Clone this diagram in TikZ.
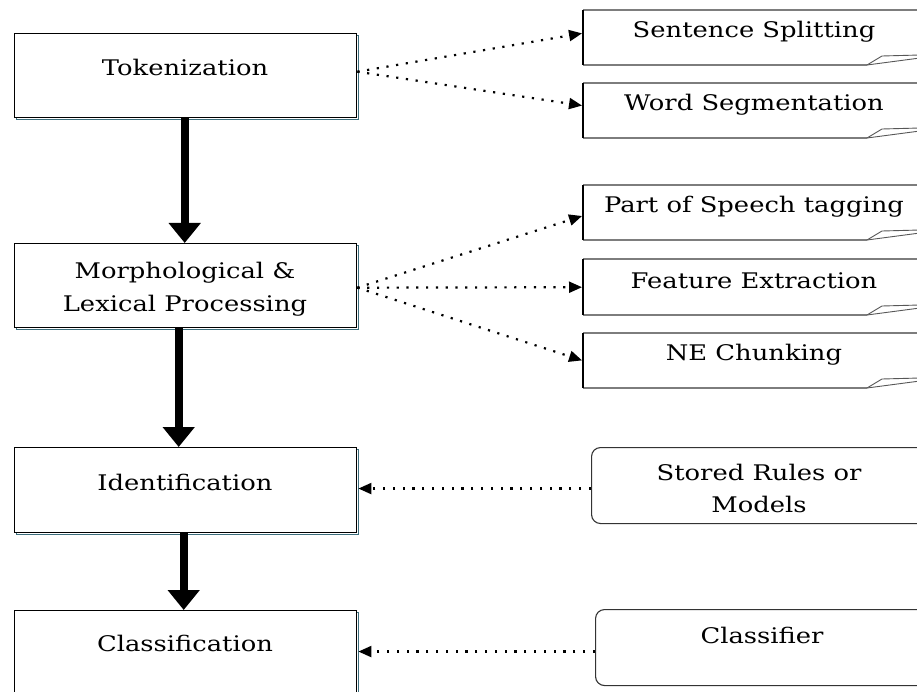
\documentclass[tikz,border=0pt]{standalone}
\usepackage{fontspec}
\setmainfont{DejaVu Serif}[FakeStretch=1.2]
\usetikzlibrary{arrows.meta,calc}
\definecolor{shadowteal}{RGB}{60,110,125}
\definecolor{edgegrey}{RGB}{125,125,125}
\tikzset{
  stagebox/.style={draw=black, line width=1.4pt, minimum width=342pt, inner sep=0pt},
  txt/.style={font=\fontsize{21.5}{32.5}\selectfont, align=center, inner sep=0pt},
  bigarrow/.style={line width=8pt, -{Triangle[width=31pt,length=20pt]}},
  dotarrow/.style={line width=2.2pt, dash pattern=on 2.2pt off 7.6pt, -{Triangle[width=11pt,length=13pt]}, shorten >=1pt},
  roundbox/.style={draw=black!80, line width=1.1pt, rounded corners=9pt, inner sep=0pt},
}
\begin{document}
\begin{tikzpicture}[x=1pt,y=-1pt]
\useasboundingbox (0,0) rectangle (917,692);
\clip (0,0) rectangle (917,692);
% left stage boxes with teal shadow
\foreach \t/\b in {33/117,243/327,447/532,610/720}{
  \draw[shadowteal, line width=1.8pt] (16.5,\t+2.5) rectangle (358.5,\b+2.5);
  \fill[white] (14,\t) rectangle (356,\b);
}
\node[stagebox, minimum height=84pt, anchor=north west] (tok) at (14,33) {};
\node[stagebox, minimum height=84pt, anchor=north west] (morph) at (14,243) {};
\node[stagebox, minimum height=85pt, anchor=north west] (ident) at (14,447) {};
\node[stagebox, minimum height=110pt, anchor=north west] (class) at (14,610) {};
\node[txt] (toktxt) at (185,67) {Tokenization};
\node[txt] (morphtxt) at (185,289) {Morphological \&\\Lexical Processing};
\node[txt] (identtxt) at (185,482) {Identification};
\node[txt] (classtxt) at (185,643) {Classification};
% thick arrows
\draw[bigarrow] ([xshift=-1pt]tok.south) -- ([xshift=-1pt]morph.north);
\draw[bigarrow] ([xshift=-7pt]morph.south) -- ([xshift=-7pt]ident.north);
\draw[bigarrow] ([xshift=-2pt]ident.south) -- ([xshift=-2pt]class.north);
% right document boxes
\foreach \n/\t/\b/\lab in {sent/10/65/Sentence Splitting, word/83/138/Word Segmentation, pos/185/240/Part of Speech tagging, feat/259/315/Feature Extraction, ne/333/388/NE Chunking}{
  \node[inner sep=0pt, minimum width=347pt, minimum height=\b-\t, anchor=north west] (\n) at (583,\t) {};
  \draw[edgegrey, line width=1.1pt] (930,\t) -- (583,\t);
  \draw[edgegrey, line width=1.1pt] (583,\b) -- (867,\b);
  \draw[black, line width=1.5pt] (583,\t) -- (583,\b);
  \draw[edgegrey!70!black, line width=0.9pt] (867,\b) -- (882,\b-9) -- (920,\b-10);
  \draw[edgegrey!70!black, line width=0.9pt] (867,\b) -- (920,\b-7);
  \node[txt] (\n txt) at (754,\t+22) {\lab};
}
% rounded boxes
\node[roundbox, minimum width=339pt, minimum height=76pt, anchor=north west] (stored) at (591,447) {};
\node[txt] (storedtxt) at (759,488.5) {Stored Rules or\\Models};
\node[roundbox, minimum width=335pt, minimum height=76pt, anchor=north west] (clf) at (595,609) {};
\node[txt] (clftxt) at (762,635) {Classifier};
% dotted arrows
\draw[dotarrow] ([yshift=4pt]tok.east) -- ([yshift=4.5pt]sent.west);
\draw[dotarrow] ([yshift=4pt]tok.east) -- ([yshift=5pt]word.west);
\draw[dotarrow] ([yshift=-2pt]morph.east) -- ([yshift=-3pt]pos.west);
\draw[dotarrow] ([yshift=-2pt]morph.east) -- (feat.west);
\draw[dotarrow] ([yshift=-2pt]morph.east) -- (ne.west);
\draw[dotarrow] ([yshift=-3pt]stored.west) -- ([yshift=-3pt]stored.west -| ident.east);
\draw[dotarrow] ([yshift=-4pt]clf.west) -- ([yshift=-4pt]clf.west -| class.east);
\end{tikzpicture}
\end{document}
